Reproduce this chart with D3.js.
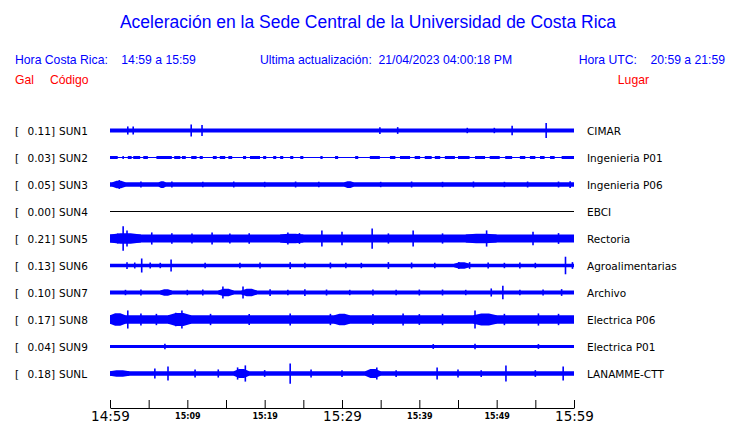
<!DOCTYPE html>
<html><head><meta charset="utf-8">
<script src="https://cdn.jsdelivr.net/npm/d3@7"></script>
<style>body{margin:0;background:#fff}</style>
</head><body><svg id="c" width="740" height="423"></svg>
<script>
// ---------- data ----------
const codes = ["SUN1","SUN2","SUN3","SUN4","SUN5","SUN6","SUN7","SUN8","SUN9","SUNL"];
const gals  = ["0.11","0.03","0.05","0.00","0.21","0.13","0.10","0.17","0.04","0.18"];
const sites = ["CIMAR","Ingenieria P01","Ingenieria P06","EBCI","Rectoria","Agroalimentarias","Archivo","Electrica P06","Electrica P01","LANAMME-CTT"];
// background amplitude (fraction of half row) for each station
const baseAmp = [0.15,0.04,0.17,0,0.29,0.13,0.15,0.32,0.11,0.17];
// bursts: [startMinute, endMinute, amplitude]
const bursts = {
  SUN1: [],
  SUN2: [[0,1.0,.11],[1.6,1.8,.11],[2.3,2.8,.11],[3.0,3.9,.11],[4.3,4.9,.11],[6.0,8.0,.11],[8.3,9.1,.11],[9.3,9.8,.11],[10.5,11.2,.11],[11.6,12.0,.11],[13.3,13.8,.11],[14.2,14.9,.11],[15.3,15.8,.11],[17.2,17.6,.11],[18.1,19.4,.11],[19.8,20.2,.11],[21.1,21.5,.11],[22.0,22.4,.11],[23.3,23.7,.11],[24.6,25.0,.11],[27.2,27.5,.11],[29.1,29.5,.11],[31.7,32.1,.11],[33.6,34.9,.11],[36.2,36.9,.11],[37.5,38.8,.11],[39.4,40.1,.11],[40.7,41.6,.11],[42.0,42.7,.11],[43.3,44.6,.11],[45.0,46.5,.11],[47.2,48.5,.11],[49.1,50.4,.11],[51.1,52.0,.11],[53.0,53.7,.11],[54.3,55.0,.11],[55.6,56.2,.11],[56.9,57.5,.11],[58.4,60,.11]],
  SUN3: [[0.3,2.0,.27],[6.3,7.2,.25],[30.3,31.5,.25]],
  SUN4: [],
  SUN5: [[0,4,.38],[22,25,.36],[46,50,.36]],
  SUN6: [[44.5,46.5,.24]],
  SUN7: [[6.5,8,.24],[14,16,.28],[17,19,.27]],
  SUN8: [[0,2,.46],[7.5,10.5,.48],[29,31,.42],[47,50,.44]],
  SUN9: [],
  SUNL: [[0,2.5,.24],[16,18,.34],[33,35,.33]]
};
// spikes: [minute, amplitude]
const spikes = {
  SUN1: [[2.3,.3],[3.0,.3],[10.5,.45],[11.9,.4],[34.9,.25],[37.2,.25],[46.2,.2],[49.7,.2],[52.0,.35],[56.4,.55]],
  SUN2: [],
  SUN3: [[1.2,.33],[4,.22],[8,.22],[12,.2],[16,.22],[20,.2],[24,.22],[27,.2],[35,.2],[39,.22],[43,.2],[47,.22],[51,.2],[54,.22],[58,.22],[59.5,.25]],
  SUN4: [],
  SUN5: [[1.0,.37],[1.7,.9],[2.2,.6],[5.4,.45],[10.6,.37],[13.2,.45],[15.5,.37],[23.0,.45],[24.5,.4],[27.4,.6],[30.0,.5],[33.9,.75],[39.2,.6],[48.7,.6],[54.7,.5],[8,.38],[18,.38],[36,.38],[43,.38],[58,.4]],
  SUN6: [[4.1,.52],[7.9,.45],[2.2,.25],[3.2,.22],[5.2,.22],[6.5,.2],[12.3,.2],[16.8,.2],[19.4,.22],[23.3,.25],[25.2,.2],[28.5,.22],[30.5,.2],[32.5,.2],[36,.25],[39,.22],[42,.2],[45.1,.25],[46.5,.25],[48.9,.22],[51,.2],[53,.22],[55,.2],[58.9,.65],[59.8,.25]],
  SUN7: [[14.6,.45],[17.2,.45],[20.7,.25],[25.2,.25],[49.3,.3],[50.8,.5],[58.4,.25],[2,.2],[4,.22],[10,.2],[12,.22],[23,.2],[28,.22],[31,.2],[34,.22],[37,.2],[40,.22],[43,.22],[46,.2],[53,.2],[56,.22]],
  SUN8: [[2.3,.67],[9.3,.67],[8.5,.5],[4,.45],[6,.42],[13,.42],[18,.4],[23.3,.45],[28.5,.42],[37.9,.45],[47.2,.67],[55.4,.45],[43,.42],[51,.42],[58,.42],[34,.4],[40,.4]],
  SUN9: [[7.1,.2],[41.8,.18],[47.2,.2],[55.4,.18]],
  SUNL: [[5.8,.37],[7.5,.52],[17.5,.6],[16.5,.45],[23.3,.75],[42.3,.45],[51.2,.6],[58.6,.52],[11,.3],[14,.3],[20,.25],[26,.3],[30,.25],[37,.25],[45,.3],[48,.25],[55,.25],[34.5,.45]]
};
const tickMinutes = [0,5,10,15,20,25,30,35,40,45,50,55,60];
const tickLabels  = ["14:59","","15:09","","15:19","","15:29","","15:39","","15:49","","15:59"];
const bigTicks = ["14:59","15:29","15:59"];

// ---------- drawing ----------
const svg = d3.select("#c");
const BLUE = "#0000ff", RED = "#ff0000";
const x = d3.scaleLinear().domain([0,60]).range([110,574]);
const y = d3.scalePoint().domain(codes).range([130.5,373.5]);
const a = d3.scaleLinear().domain([0,1]).range([0,13.5]);

// header
svg.append("text").attr("x",368).attr("y",28).attr("text-anchor","middle")
  .attr("font-family","Liberation Sans, Arial, sans-serif").attr("font-size",17.5).attr("fill",BLUE)
  .text("Aceleración en la Sede Central de la Universidad de Costa Rica");
const hdr = {"font-family":"Liberation Sans, Arial, sans-serif","font-size":12.2};
function t(xp,yp,txt,col,anchor){
  const e = svg.append("text").attr("x",xp).attr("y",yp).attr("fill",col).attr("text-anchor",anchor||"start")
    .attr("xml:space","preserve").style("white-space","pre").text(txt);
  Object.entries(hdr).forEach(([k,v])=>e.attr(k,v));
  return e;
}
t(15,64,"Hora Costa Rica:    14:59 a 15:59",BLUE);
t(260,64,"Ultima actualización:  21/04/2023 04:00:18 PM",BLUE);
t(725,64,"Hora UTC:    20:59 a 21:59",BLUE,"end");
t(15,84,"Gal",RED);
t(50,84,"Código",RED);
t(649,84,"Lugar",RED,"end");

// rows
const lab = {"font-family":"DejaVu Sans, sans-serif","font-size":10.5,"fill":"#000"};
codes.forEach((c,i)=>{
  const cy = y(c);
  const g = svg.append("g");
  const mk = (xp,txt,anchor)=>{const e=g.append("text").attr("x",xp).attr("y",cy+4).attr("text-anchor",anchor||"start").text(txt);Object.entries(lab).forEach(([k,v])=>e.attr(k,v));};
  mk(15,"[");
  mk(55,gals[i]+"]","end");
  mk(59,c);
  mk(587,sites[i]);
  if (baseAmp[i]===0){
    g.append("line").attr("x1",x(0)).attr("x2",x(60)).attr("y1",cy).attr("y2",cy)
      .attr("stroke","#000").attr("stroke-width",1).attr("shape-rendering","crispEdges");
    return;
  }
  const area = d3.area().x(d=>x(d[0])).y0(d=>cy+a(d[1])).y1(d=>cy-a(d[1]));
  g.append("path").attr("d",area([[0,baseAmp[i]],[60,baseAmp[i]]])).attr("fill",BLUE);
  bursts[c].forEach(b=>{
    // SUN2 shows flat dashes; other stations show tapered bursts
    const pts = c==="SUN2" ? [[b[0],b[2]],[b[1],b[2]]]
      : [[b[0],baseAmp[i]],[(b[0]*2+b[1])/3,b[2]],[(b[0]+b[1]*2)/3,b[2]],[b[1],baseAmp[i]]];
    g.append("path").attr("d",area(pts)).attr("fill",BLUE);
  });
  g.selectAll("line.sp").data(spikes[c]).join("line").attr("class","sp")
    .attr("x1",d=>x(d[0])).attr("x2",d=>x(d[0]))
    .attr("y1",d=>cy-a(d[1])).attr("y2",d=>cy+a(d[1]))
    .attr("stroke",BLUE).attr("stroke-width",1.6);
});

// axis
const axis = d3.axisBottom(x).tickValues(tickMinutes)
  .tickFormat((d,i)=>tickLabels[i]).tickSize(-8).tickSizeOuter(0).tickPadding(3);
const ag = svg.append("g").attr("transform","translate(0,408)").call(axis);
ag.select(".domain").attr("stroke","#000");
ag.selectAll(".tick line").attr("stroke","#000");
const isBig = d=>bigTicks.includes(tickLabels[tickMinutes.indexOf(d)]);
ag.selectAll(".tick text").attr("fill","#000").attr("font-family","DejaVu Sans, sans-serif")
  .attr("font-size",d=>isBig(d)?13.5:8)
  .attr("font-weight",d=>isBig(d)?"normal":"bold")
  .attr("dy",d=>isBig(d)?"0.75em":"0.95em");
</script></body></html>
